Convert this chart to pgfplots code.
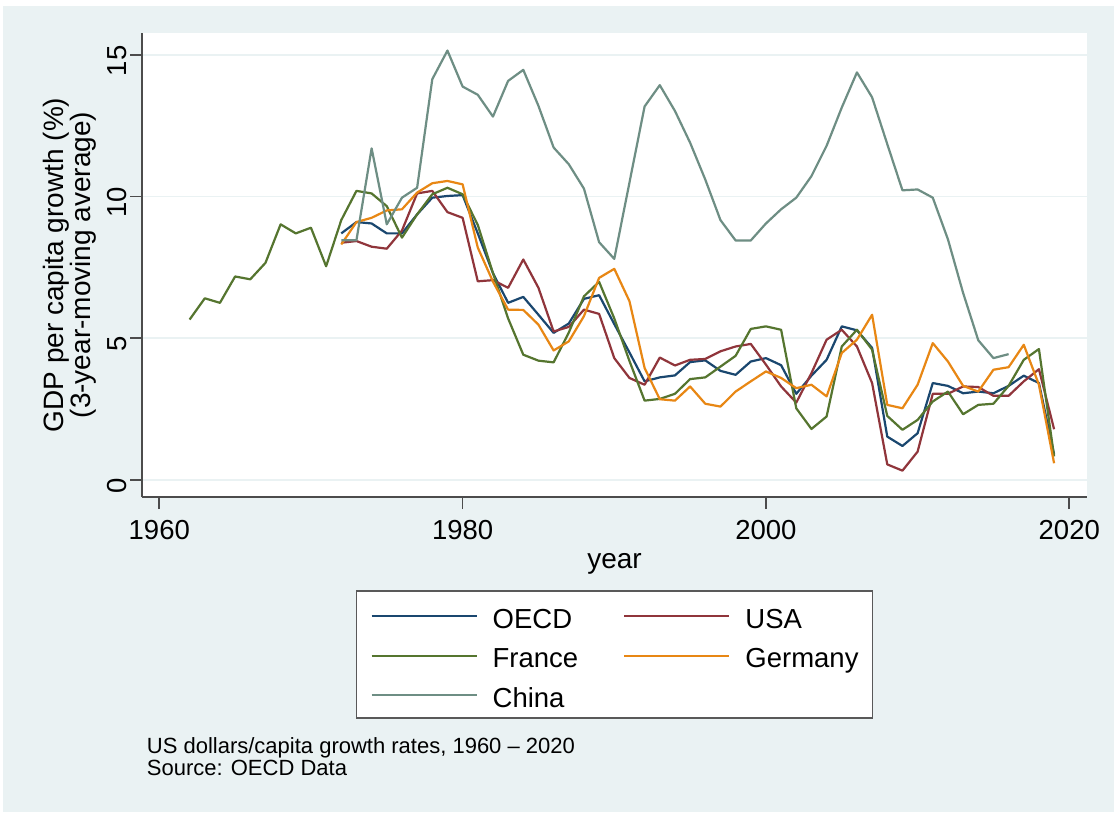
\documentclass[border=0pt]{standalone}
\usepackage{fontspec}
\setmainfont{Liberation Sans}
\usepackage{pgfplots}
\pgfplotsset{compat=1.18}
\usepackage{pgfplotstable}
\definecolor{bg}{RGB}{234,242,243}
\definecolor{cOECD}{RGB}{26,71,111}
\definecolor{cUSA}{RGB}{144,53,59}
\definecolor{cFR}{RGB}{85,117,47}
\definecolor{cDE}{RGB}{232,135,20}
\definecolor{cCN}{RGB}{110,142,132}

\pgfplotstableread{
year val
1972 8.70
1973 9.10
1974 9.05
1975 8.70
1976 8.70
1977 9.37
1978 9.96
1979 10.02
1980 10.05
1981 8.7
1982 7.3
1983 6.25
1984 6.46
1985 5.83
1986 5.19
1987 5.52
1988 6.39
1989 6.52
1990 5.5
1991 4.5
1992 3.48
1993 3.62
1994 3.69
1995 4.16
1996 4.22
1997 3.85
1998 3.71
1999 4.18
2000 4.30
2001 4.05
2002 3.04
2003 3.68
2004 4.24
2005 5.42
2006 5.28
2007 4.66
2008 1.53
2009 1.20
2010 1.65
2011 3.42
2012 3.32
2013 3.06
2014 3.12
2015 3.06
2016 3.32
2017 3.68
2018 3.42
2019 0.90
}\oecd

\pgfplotstableread{
year val
1972 8.37
1973 8.43
1974 8.23
1975 8.16
1976 8.80
1977 10.11
1978 10.20
1979 9.45
1980 9.25
1981 7.01
1982 7.05
1983 6.78
1984 7.78
1985 6.78
1986 5.24
1987 5.40
1988 6.01
1989 5.86
1990 4.30
1991 3.60
1992 3.36
1993 4.32
1994 4.04
1995 4.24
1996 4.27
1997 4.54
1998 4.71
1999 4.80
2000 4.07
2001 3.30
2002 2.73
2003 3.77
2004 4.95
2005 5.30
2006 4.71
2007 3.42
2008 0.55
2009 0.33
2010 1.00
2011 3.04
2012 3.04
2013 3.30
2014 3.28
2015 2.97
2016 2.97
2017 3.48
2018 3.91
2019 1.79
}\usa

\pgfplotstableread{
year val
1962 5.66
1963 6.41
1964 6.25
1965 7.18
1966 7.08
1967 7.66
1968 9.02
1969 8.70
1970 8.90
1971 7.54
1972 9.17
1973 10.20
1974 10.11
1975 9.66
1976 8.55
1977 9.37
1978 10.08
1979 10.31
1980 10.08
1981 9.00
1982 7.30
1983 5.70
1984 4.42
1985 4.21
1986 4.15
1987 5.20
1988 6.48
1989 6.99
1990 5.70
1991 4.20
1992 2.80
1993 2.86
1994 3.04
1995 3.56
1996 3.62
1997 4.00
1998 4.38
1999 5.33
2000 5.42
2001 5.30
2002 2.53
2003 1.80
2004 2.24
2005 4.71
2006 5.30
2007 4.60
2008 2.26
2009 1.77
2010 2.12
2011 2.77
2012 3.12
2013 2.32
2014 2.65
2015 2.69
2016 3.32
2017 4.24
2018 4.62
2019 0.83
}\france

\pgfplotstableread{
year val
1972 8.31
1973 9.10
1974 9.25
1975 9.51
1976 9.55
1977 10.14
1978 10.47
1979 10.55
1980 10.43
1981 8.20
1982 7.00
1983 6.01
1984 6.00
1985 5.48
1986 4.57
1987 4.89
1988 5.78
1989 7.13
1990 7.45
1991 6.31
1992 3.95
1993 2.85
1994 2.80
1995 3.30
1996 2.69
1997 2.59
1998 3.12
1999 3.48
2000 3.83
2001 3.60
2002 3.24
2003 3.36
2004 2.95
2005 4.48
2006 4.95
2007 5.83
2008 2.65
2009 2.53
2010 3.36
2011 4.83
2012 4.18
2013 3.32
2014 3.12
2015 3.89
2016 3.98
2017 4.77
2018 3.36
2019 0.59
}\germany

\pgfplotstableread{
year val
1972 8.46
1973 8.46
1974 11.70
1975 9.02
1976 9.96
1977 10.31
1978 14.14
1979 15.15
1980 13.88
1981 13.59
1982 12.82
1983 14.08
1984 14.47
1985 13.20
1986 11.73
1987 11.14
1988 10.28
1989 8.39
1990 7.80
1991 10.49
1992 13.18
1993 13.93
1994 13.02
1995 11.90
1996 10.60
1997 9.17
1998 8.45
1999 8.45
2000 9.05
2001 9.55
2002 9.96
2003 10.72
2004 11.79
2005 13.14
2006 14.38
2007 13.50
2008 11.85
2009 10.22
2010 10.25
2011 9.96
2012 8.49
2013 6.60
2014 4.93
2015 4.30
2016 4.44
}\china

\begin{document}
\begin{tikzpicture}[x=1pt,y=1pt]
\fill[white] (0,0) rectangle (1114,812);
\fill[bg] (3,0) rectangle (1114,806);
\useasboundingbox (0,0) rectangle (1114,812);
\begin{axis}[
  at={(142pt,315pt)}, anchor=south west,
  scale only axis, width=945pt, height=464pt,
  xmin=1958.86, xmax=2021.17, ymin=-0.6, ymax=15.77,
  axis background/.style={fill=white},
  axis x line*=bottom, axis y line*=left,
  axis line style={black!70, line width=1.7pt},
  xtick={1960,1980,2000,2020}, xticklabels={1960,1980,2000,2020},
  ytick={0,5,10,15}, yticklabels={0,5,10,15},
  tick align=outside, major tick length=12pt,
  major tick style={black!70, line width=1.6pt},
  ymajorgrids, grid style={bg, line width=1.6pt},
  tick label style={font=\fontsize{27.5}{30}\selectfont},
  xticklabel style={yshift=-8pt},
  yticklabel style={rotate=90, anchor=south, xshift=-6pt},
  xlabel={year},
  xlabel style={at={(axis description cs:0.5,0)}, anchor=base, yshift=-71pt, font=\fontsize{28}{30}\selectfont},
  ylabel={GDP per capita growth (\%)\\(3-year-moving average)},
  ylabel style={at={(axis description cs:-0.0762,0.5)}, anchor=center, align=center, font=\fontsize{28}{25}\selectfont},
  legend columns=2,
  legend cell align=left,
  legend image code/.code={\draw[#1] (0pt,-1.25pt) -- (105pt,-1.25pt);},
  legend style={at={(axis description cs:0.5,-0.2004)}, anchor=north,
    draw=black!65, line width=1.6pt, fill=white,
    inner xsep=14pt, inner ysep=10.5pt,
    font=\fontsize{27.5}{30}\selectfont,
    nodes={inner sep=0pt, text height=27pt, text depth=0pt},
    row sep=12.6pt,
    /tikz/every odd column/.append style={column sep=15pt},
    /tikz/every even column/.append style={column sep=45pt}},
  every axis plot/.append style={line width=2.2pt, line join=round},
]
\addplot[cOECD] table[x=year,y=val]{\oecd};
\addlegendentry{OECD}
\addplot[cUSA] table[x=year,y=val]{\usa};
\addlegendentry{USA}
\addplot[cFR] table[x=year,y=val]{\france};
\addlegendentry{France}
\addplot[cDE] table[x=year,y=val]{\germany};
\addlegendentry{Germany}
\addplot[cCN] table[x=year,y=val]{\china};
\addlegendentry{China}
\end{axis}
\node[anchor=base west, inner sep=0pt, font=\fontsize{22}{22}\selectfont] at (146.7,58.7) {US dollars/capita growth rates, 1960 -- 2020};
\node[anchor=base west, inner sep=0pt, font=\fontsize{22}{22}\selectfont] at (146.7,37) {Source: OECD Data};
\end{tikzpicture}
\end{document}
